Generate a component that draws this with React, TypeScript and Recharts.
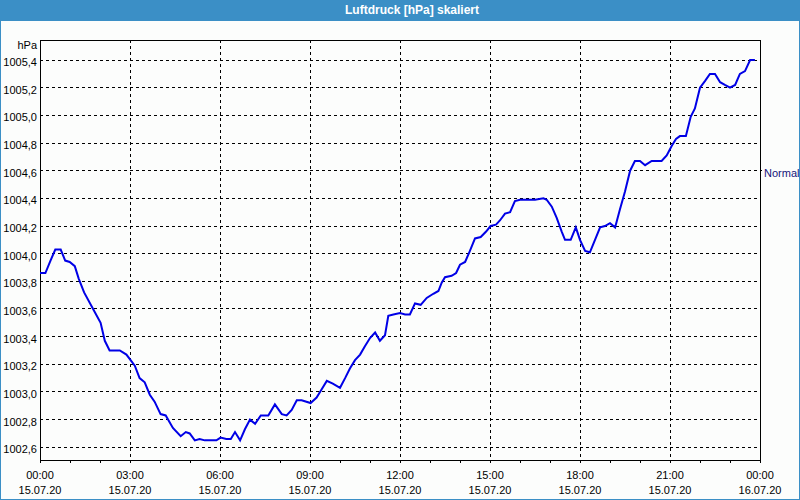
import React from "react";
import {
  LineChart,
  Line,
  XAxis,
  YAxis,
  CartesianGrid,
  ReferenceArea,
} from "recharts";

const hours = [
  0.0, 0.18, 0.35, 0.51, 0.69, 0.84, 0.99, 1.16, 1.29, 1.47, 1.77, 2.02, 2.16, 2.32, 2.66, 2.88,
  3.16, 3.32, 3.49, 3.66, 3.82, 4.02, 4.19, 4.43, 4.69, 4.86, 4.99, 5.16, 5.32, 5.49, 5.88,
  6.02, 6.21, 6.36, 6.5, 6.67, 6.83, 7.0, 7.17, 7.36, 7.61, 7.83, 8.06, 8.22, 8.39, 8.56, 8.72,
  9.02, 9.22, 9.39, 9.56, 9.76, 10.0, 10.17, 10.33, 10.5, 10.67, 10.83, 11.0, 11.17, 11.33,
  11.5, 11.61, 11.78, 12.0, 12.17, 12.33, 12.5, 12.69, 12.89, 13.11, 13.28, 13.39, 13.5,
  13.72, 13.87, 14.0, 14.17, 14.31, 14.5, 14.69, 14.87, 15.02, 15.2, 15.33, 15.5, 15.67,
  15.83, 16.0, 16.22, 16.5, 16.78, 16.89, 17.06, 17.22, 17.39, 17.5, 17.69, 17.86, 18.0,
  18.17, 18.33, 18.5, 18.67, 18.83, 19.0, 19.17, 19.33, 19.5, 19.67, 19.83, 20.0, 20.17,
  20.39, 20.72, 20.89, 21.06, 21.2, 21.33, 21.53, 21.69, 21.83, 22.0, 22.17, 22.33, 22.5,
  22.67, 22.83, 23.0, 23.17, 23.33, 23.5, 23.67, 23.83,
];

const pressure = [
  1003.86, 1003.86, 1003.95, 1004.03, 1004.03, 1003.95, 1003.94, 1003.91, 1003.82, 1003.72,
  1003.6, 1003.5, 1003.37, 1003.3, 1003.3, 1003.27, 1003.19, 1003.1, 1003.07, 1002.98,
  1002.93, 1002.84, 1002.83, 1002.74, 1002.68, 1002.71, 1002.7, 1002.65, 1002.66, 1002.65,
  1002.65, 1002.67, 1002.66, 1002.66, 1002.71, 1002.65, 1002.73, 1002.8, 1002.77, 1002.83,
  1002.83, 1002.91, 1002.84, 1002.83, 1002.87, 1002.94, 1002.94, 1002.92, 1002.96, 1003.02,
  1003.08, 1003.06, 1003.03, 1003.1, 1003.17, 1003.23, 1003.27, 1003.33, 1003.39, 1003.43,
  1003.37, 1003.41, 1003.55, 1003.56, 1003.57, 1003.56, 1003.56, 1003.64, 1003.63, 1003.68,
  1003.71, 1003.73, 1003.79, 1003.83, 1003.84, 1003.86, 1003.92, 1003.94, 1004.01, 1004.11,
  1004.12, 1004.16, 1004.2, 1004.21, 1004.24, 1004.29, 1004.3, 1004.38, 1004.39, 1004.39,
  1004.39, 1004.4, 1004.39, 1004.34, 1004.26, 1004.16, 1004.1, 1004.1, 1004.19, 1004.1,
  1004.02, 1004.01, 1004.1, 1004.19, 1004.2, 1004.22, 1004.19, 1004.32, 1004.45, 1004.6,
  1004.67, 1004.67, 1004.64, 1004.67, 1004.67, 1004.71, 1004.78, 1004.83, 1004.85, 1004.85,
  1004.99, 1005.05, 1005.2, 1005.25, 1005.3, 1005.3, 1005.24, 1005.22, 1005.2, 1005.22,
  1005.3, 1005.32, 1005.4, 1005.4,
];

const yTicks = [
  1002.6, 1002.8, 1003.0, 1003.2, 1003.4, 1003.6, 1003.8, 1004.0, 1004.2, 1004.4, 1004.6,
  1004.8, 1005.0, 1005.2, 1005.4,
];
const yDomain = [1002.508, 1005.545];
const normalTicks = [1004.6];
const normalLabel = "Normal";
const unitLabel = "hPa";
const titleText = "Luftdruck [hPa] skaliert";

const xTicks = [0, 1, 2, 3, 4, 5, 6, 7, 8, 9, 10, 11, 12, 13, 14, 15, 16, 17, 18, 19, 20, 21, 22, 23, 24];
const majorHours = [0, 3, 6, 9, 12, 15, 18, 21, 24];
const timeLabels = ["00:00", "03:00", "06:00", "09:00", "12:00", "15:00", "18:00", "21:00", "00:00"];
const dateLabels = ["15.07.20", "15.07.20", "15.07.20", "15.07.20", "15.07.20", "15.07.20", "15.07.20", "15.07.20", "16.07.20"];
const gridHours = [3, 6, 9, 12, 15, 18, 21];

const data = hours.map((t, i) => ({ t, p: pressure[i] }));

const FONT = "'Liberation Sans', Arial, sans-serif";
const BLUE = "#3b8fc6";

const XTick = (props: any) => {
  const { x, y, payload } = props;
  const idx = majorHours.indexOf(payload.value);
  if (idx < 0) return null;
  return (
    <text x={x} textAnchor="middle" fontFamily={FONT} fontSize={11} fill="#000">
      <tspan x={x} y={y + 14}>{timeLabels[idx]}</tspan>
      <tspan x={x} y={y + 29}>{dateLabels[idx]}</tspan>
    </text>
  );
};

const YTick = (props: any) => {
  const { x, y, payload } = props;
  return (
    <text x={x} y={y + 6} textAnchor="end" fontFamily={FONT} fontSize={11} fill="#000">
      {Number(payload.value).toFixed(1).replace(".", ",")}
    </text>
  );
};

const NormalTick = (props: any) => {
  const { x, y } = props;
  return (
    <text x={x} y={y + 6} textAnchor="start" fontFamily={FONT} fontSize={11} fill="#14147a">
      {normalLabel}
    </text>
  );
};

export default function App() {
  return (
    <div
      style={{
        position: "absolute",
        left: 0,
        top: 0,
        width: 800,
        height: 500,
        boxSizing: "border-box",
        border: `1px solid ${BLUE}`,
        background: "#fcfdfc",
        overflow: "hidden",
      }}
    >
      <style>{`
        .recharts-cartesian-grid line, .recharts-cartesian-axis-line, .recharts-cartesian-axis-tick-line, .recharts-reference-area-rect { shape-rendering: crispEdges; }
      `}</style>
      <div
        style={{
          position: "absolute",
          left: -1,
          top: -1,
          width: 800,
          height: 21,
          background: BLUE,
        }}
      >
        <span
          style={{
            position: "absolute",
            left: 345,
            top: 3,
            color: "#fff",
            fontFamily: FONT,
            fontWeight: "bold",
            fontSize: 12,
            lineHeight: "14px",
            whiteSpace: "nowrap",
          }}
        >
          {titleText}
        </span>
      </div>
      <div style={{ position: "absolute", left: -1, top: -1 }}>
        <LineChart
          width={800}
          height={500}
          data={data}
          margin={{ top: 40, right: 0, bottom: 0, left: 0 }}
        >
          <CartesianGrid
            stroke="#000"
            strokeDasharray="3 3"
            horizontalValues={yTicks}
            verticalValues={gridHours}
            yAxisId="left"
          />
          <XAxis
            dataKey="t"
            type="number"
            domain={[0, 24]}
            ticks={xTicks}
            interval={0}
            height={40}
            tickSize={3}
            tickMargin={2}
            stroke="#000"
            tick={<XTick />}
            allowDataOverflow
          />
          <YAxis
            yAxisId="left"
            type="number"
            domain={yDomain}
            ticks={yTicks}
            interval={0}
            width={40}
            tickSize={0}
            tickMargin={3}
            axisLine={false}
            tickLine={false}
            tick={<YTick />}
            allowDataOverflow
            label={{
              content: (p: any) => {
                const vb = p.viewBox || { x: 0, y: 40, width: 40 };
                return (
                  <text
                    x={vb.x + vb.width - 3}
                    y={vb.y + 9}
                    textAnchor="end"
                    fontFamily={FONT}
                    fontSize={11}
                    fill="#000"
                  >
                    {unitLabel}
                  </text>
                );
              },
            }}
          />
          <YAxis
            yAxisId="right"
            orientation="right"
            type="number"
            domain={yDomain}
            ticks={normalTicks}
            interval={0}
            width={40}
            tickSize={2}
            tickMargin={2}
            axisLine={false}
            stroke="#000"
            tick={<NormalTick />}
            allowDataOverflow
          />
          <ReferenceArea
            yAxisId="left"
            x1={0}
            x2={24}
            y1={yDomain[0]}
            y2={yDomain[1]}
            fill="none"
            fillOpacity={0}
            stroke="#000"
            strokeWidth={1}
          />
          <Line
            yAxisId="left"
            type="linear"
            dataKey="p"
            stroke="#0000e6"
            strokeWidth={2}
            dot={false}
            isAnimationActive={false}
          />
        </LineChart>
      </div>
    </div>
  );
}
